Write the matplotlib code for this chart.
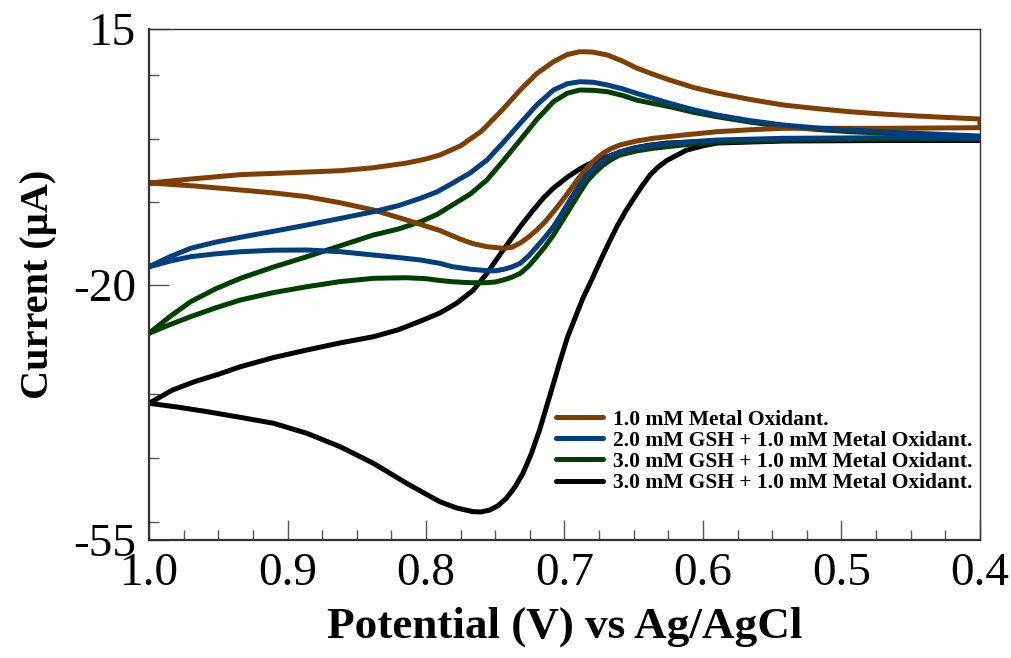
import matplotlib
matplotlib.use("Agg")
import matplotlib.pyplot as plt
from matplotlib.ticker import MultipleLocator, FixedLocator

plt.rcParams['font.family'] = ['Liberation Serif', 'DejaVu Serif']
plt.rcParams['axes.unicode_minus'] = False

# cyclic voltammograms, potential in V, current in uA
# each loop = upper branch (1.0 -> 0.4) + lower branch (0.4 -> 1.0)
v_brown_up = [1.000, 0.967, 0.934, 0.900, 0.862, 0.838, 0.814, 0.800, 0.790, 0.775, 0.760, 0.745, 0.732, 0.720, 0.708,
              0.698, 0.689, 0.680, 0.669, 0.658, 0.648, 0.636, 0.624, 0.607, 0.590, 0.566, 0.542, 0.518, 0.494, 0.470,
              0.445, 0.420, 0.400]
i_brown_up = [-6.10, -5.50, -4.95, -4.70, -4.41, -4.00, -3.36, -2.80, -2.26, -1.00, 1.00, 3.90, 6.64, 8.90, 10.52,
              11.50, 11.89, 11.85, 11.44, 10.60, 9.66, 8.80, 8.01, 7.00, 6.23, 5.35, 4.59, 4.10, 3.67, 3.35,
              3.08, 2.85, 2.67]
v_brown_dn = [1.000, 0.967, 0.934, 0.910, 0.886, 0.862, 0.838, 0.814, 0.800, 0.790, 0.775, 0.766, 0.756, 0.744, 0.738,
              0.732, 0.726, 0.720, 0.714, 0.708, 0.702, 0.696, 0.690, 0.684, 0.678, 0.672, 0.666, 0.660, 0.648, 0.636,
              0.613, 0.590, 0.566, 0.542, 0.470, 0.400]
i_brown_dn = [-6.10, -6.50, -7.05, -7.45, -7.97, -8.80, -9.79, -11.16, -12.00, -12.60, -13.80, -14.40, -14.82, -15.04, -14.90,
              -14.32, -13.50, -12.53, -11.40, -10.03, -8.60, -7.05, -5.50, -4.04, -2.90, -1.99, -1.35, -0.89, -0.35, 0.03,
              0.50, 0.93, 1.20, 1.40, 1.40, 1.48]

v_blue_up = [1.000, 0.985, 0.970, 0.952, 0.934, 0.910, 0.886, 0.862, 0.838, 0.820, 0.804, 0.792, 0.781, 0.768, 0.756,
             0.744, 0.732, 0.720, 0.708, 0.698, 0.689, 0.679, 0.669, 0.658, 0.648, 0.636, 0.624, 0.607, 0.590, 0.566,
             0.542, 0.518, 0.494, 0.470, 0.445, 0.400]
i_blue_up = [-17.56, -16.20, -15.04, -14.20, -13.53, -12.70, -11.85, -10.95, -10.03, -9.20, -8.19, -7.30, -6.14, -4.70, -2.95,
             -0.50, 2.08, 4.60, 6.64, 7.50, 7.78, 7.70, 7.33, 6.80, 6.19, 5.50, 4.82, 3.95, 3.22, 2.45,
             1.85, 1.45, 1.16, 0.92, 0.71, 0.34]
v_blue_dn = [1.000, 0.985, 0.970, 0.952, 0.934, 0.910, 0.886, 0.862, 0.838, 0.820, 0.804, 0.790, 0.781, 0.768, 0.756,
             0.750, 0.744, 0.738, 0.732, 0.726, 0.720, 0.714, 0.708, 0.702, 0.696, 0.690, 0.684, 0.678, 0.672, 0.666,
             0.660, 0.648, 0.636, 0.613, 0.590, 0.542, 0.470, 0.400]
i_blue_dn = [-17.56, -16.80, -16.19, -15.80, -15.51, -15.30, -15.27, -15.50, -15.96, -16.30, -16.64, -17.10, -17.56, -17.90, -18.11,
             -18.12, -17.92, -17.60, -17.10, -16.10, -14.82, -13.50, -12.08, -10.30, -8.42, -6.60, -5.00, -3.85, -2.95, -2.30,
             -1.81, -1.25, -0.89, -0.50, -0.21, 0.03, 0.11, 0.03]

v_green_up = [1.000, 0.985, 0.970, 0.952, 0.934, 0.910, 0.886, 0.862, 0.838, 0.820, 0.804, 0.792, 0.781, 0.768, 0.756,
              0.744, 0.732, 0.720, 0.708, 0.698, 0.689, 0.679, 0.669, 0.658, 0.648, 0.636, 0.624, 0.607, 0.590, 0.566,
              0.542, 0.518, 0.494, 0.445, 0.400]
i_green_up = [-26.68, -24.40, -22.36, -20.60, -19.15, -17.60, -16.19, -14.70, -13.22, -12.40, -11.40, -10.40, -9.11, -7.60, -5.68,
              -3.00, -0.21, 2.60, 5.04, 6.20, 6.64, 6.60, 6.41, 5.90, 5.27, 4.80, 4.36, 3.60, 2.99, 2.25,
              1.62, 1.25, 0.93, 0.55, 0.25]
v_green_dn = [1.000, 0.985, 0.970, 0.952, 0.934, 0.910, 0.886, 0.862, 0.838, 0.814, 0.800, 0.790, 0.781, 0.768, 0.756,
              0.750, 0.744, 0.738, 0.732, 0.726, 0.720, 0.714, 0.708, 0.702, 0.696, 0.690, 0.684, 0.678, 0.672, 0.666,
              0.660, 0.648, 0.636, 0.613, 0.590, 0.542, 0.470, 0.400]
i_green_dn = [-26.68, -25.50, -24.41, -23.20, -22.12, -21.10, -20.30, -19.60, -19.15, -19.07, -19.20, -19.45, -19.62, -19.75, -19.75,
              -19.65, -19.38, -19.00, -18.47, -17.50, -16.19, -14.80, -13.22, -11.40, -9.56, -7.70, -5.92, -4.65, -3.63, -2.85,
              -2.26, -1.70, -1.34, -0.85, -0.48, -0.21, -0.07, -0.07]

v_black_up = [1.000, 0.983, 0.967, 0.950, 0.934, 0.910, 0.886, 0.862, 0.838, 0.820, 0.802, 0.790, 0.778, 0.766, 0.756,
              0.744, 0.732, 0.723, 0.715, 0.708, 0.698, 0.690, 0.684, 0.674, 0.660, 0.651, 0.640, 0.626, 0.590, 0.542,
              0.400]
i_black_up = [-36.27, -34.45, -33.30, -32.30, -31.26, -30.00, -28.97, -28.00, -27.15, -26.20, -24.86, -23.90, -22.58, -20.80, -18.47,
              -15.20, -12.08, -9.90, -8.10, -6.80, -5.30, -4.30, -3.65, -2.80, -1.90, -1.35, -0.95, -0.62, -0.34, -0.27,
              -0.21]
v_black_dn = [1.000, 0.979, 0.958, 0.934, 0.910, 0.886, 0.862, 0.838, 0.814, 0.802, 0.790, 0.778, 0.766, 0.760, 0.754,
              0.748, 0.742, 0.736, 0.730, 0.724, 0.718, 0.710, 0.704, 0.698, 0.692, 0.687, 0.680, 0.674, 0.668, 0.662,
              0.656, 0.651, 0.644, 0.638, 0.632, 0.626, 0.612, 0.600, 0.590, 0.542, 0.400]
i_black_dn = [-36.27, -36.80, -37.42, -38.20, -39.01, -40.38, -42.22, -44.49, -47.23, -48.50, -49.75, -50.60, -51.12, -51.15, -50.89,
              -50.30, -49.29, -47.80, -45.86, -43.20, -39.93, -34.86, -31.00, -27.30, -24.40, -22.00, -19.20, -16.70, -14.30, -12.00,
              -10.00, -8.50, -6.50, -4.95, -3.85, -3.00, -1.60, -1.00, -0.62, -0.34, -0.21]

labels = ['1.0 mM Metal Oxidant.',
          '2.0 mM GSH + 1.0 mM Metal Oxidant.',
          '3.0 mM GSH + 1.0 mM Metal Oxidant.',
          '3.0 mM GSH + 1.0 mM Metal Oxidant.']
colors = ['#7f3f00', '#003f7f', '#003f00', '#000000']

curves = [(v_brown_up, i_brown_up, v_brown_dn, i_brown_dn),
          (v_blue_up, i_blue_up, v_blue_dn, i_blue_dn),
          (v_green_up, i_green_up, v_green_dn, i_green_dn),
          (v_black_up, i_black_up, v_black_dn, i_black_dn)]

fig = plt.figure(figsize=(10.11, 6.58), dpi=100)
ax = fig.add_axes([0.1474, 0.1793, 0.8219, 0.7766])

handles = [None] * 4
for k in [3, 2, 0, 1]:
    vu, iu, vd, idn = curves[k]
    x = list(vu) + list(vd[::-1])
    y = list(iu) + list(idn[::-1])
    h, = ax.plot(x, y, color=colors[k], lw=3.6, solid_joinstyle='round',
                 solid_capstyle='round', label=labels[k])
    handles[k] = h

ax.set_xlim(1.0, 0.4)
ax.set_ylim(-55, 15)
ax.xaxis.set_major_locator(FixedLocator([1.0, 0.9, 0.8, 0.7, 0.6, 0.5, 0.4]))
ax.xaxis.set_minor_locator(MultipleLocator(0.025))
ax.set_xticklabels(['1.0', '0.9', '0.8', '0.7', '0.6', '0.5', '0.4'])
ax.yaxis.set_major_locator(FixedLocator([-55, -20, 15]))
ax.yaxis.set_minor_locator(MultipleLocator(8.75))

ax.tick_params(which='both', direction='in', top=False, right=False,
               color='#555555', width=1.0, labelsize=34)
ax.tick_params(which='major', length=14.5)
ax.tick_params(which='minor', length=7.2)
ax.tick_params(axis='x', pad=9)
ax.tick_params(axis='y', pad=9)

for s in ['left', 'bottom']:
    ax.spines[s].set_linewidth(1.6)
    ax.spines[s].set_color('#333333')
for s in ['top', 'right']:
    ax.spines[s].set_linewidth(1.0)
    ax.spines[s].set_color('#333333')

ax.set_xlabel('Potential (V) vs Ag/AgCl', fontsize=32.5, fontweight='bold', labelpad=8)
ax.set_ylabel('Current (µA)', fontsize=29, fontweight='bold', labelpad=12)

fig.legend(handles, labels, loc='center left', bbox_to_anchor=(0.55, 0.314),
           bbox_transform=fig.transFigure, frameon=False, borderpad=0,
           borderaxespad=0, handlelength=2.2, handletextpad=0.45,
           labelspacing=0.05, prop={'weight': 'bold', 'size': 15.5})

fig.savefig('out.png', dpi=100)
